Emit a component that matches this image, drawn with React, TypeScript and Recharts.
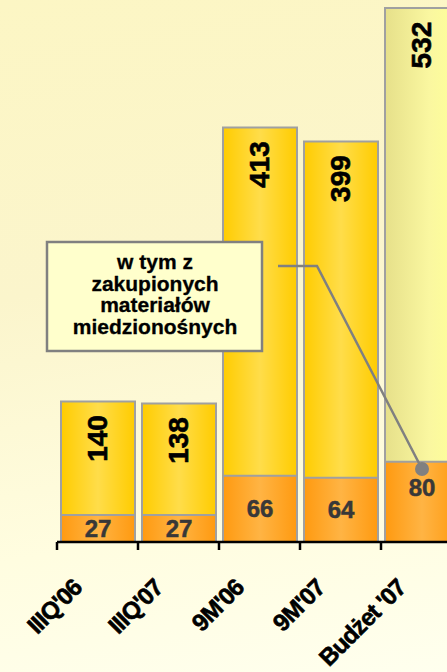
import React from "react";
import { BarChart, Bar, XAxis, YAxis, Cell, LabelList } from "recharts";

const categories = ["IIIQ'06", "IIIQ'07", "9M'06", "9M'07", "Budżet '07"];
const totalValues = [140, 138, 413, 399, 532];
const copperValues = [27, 27, 66, 64, 80];
const calloutLines = ["w tym z", "zakupionych", "materiałów", "miedzionośnych"];

const data = categories.map((name, i) => ({
  name,
  total: totalValues[i],
  copper: copperValues[i],
}));

const FONT = "'Liberation Sans', Arial, sans-serif";

const TotalLabel = (props: any) => {
  const { x, y, width, value } = props;
  const cx = Number(x) + Number(width) / 2;
  const cy = Number(y) + 37;
  return (
    <text
      x={cx}
      y={cy}
      transform={`rotate(-90, ${cx}, ${cy})`}
      textAnchor="middle"
      dominantBaseline="central"
      fontFamily={FONT}
      fontWeight="bold"
      fontSize={28}
      fill="#000"
      stroke="#000"
      strokeWidth={0.6}
    >
      {value}
    </text>
  );
};

const CopperLabel = (props: any) => {
  const { x, y, width, height, value, index } = props;
  const cx = Number(x) + Number(width) / 2;
  const cy = index === categories.length - 1 ? Number(y) + 26 : Number(y) + Number(height) / 2;
  return (
    <text
      x={cx}
      y={cy}
      textAnchor="middle"
      dominantBaseline="central"
      fontFamily={FONT}
      fontWeight="bold"
      fontSize={24}
      fill="#383838"
      stroke="#383838"
      strokeWidth={0.5}
    >
      {value}
    </text>
  );
};

const CatTick = (props: any) => {
  const { x, y, payload } = props;
  const half = payload && payload.offset ? payload.offset : 40.5;
  const lx = x - half;
  const ax = x - 14;
  const ay = y + 47;
  return (
    <g>
      <line x1={lx} y1={y} x2={lx} y2={y + 8} stroke="#000" strokeWidth={2.5} />
      <text
        x={ax}
        y={ay}
        transform={`rotate(-45, ${ax}, ${ay})`}
        textAnchor="end"
        fontFamily={FONT}
        fontWeight="bold"
        fontSize={24}
        letterSpacing={-0.8}
        fill="#000"
        stroke="#000"
        strokeWidth={0.6}
      >
        {payload.value}
      </text>
    </g>
  );
};

export default function App() {
  return (
    <div
      style={{
        position: "absolute",
        left: 0,
        top: 0,
        width: 447,
        height: 672,
        overflow: "hidden",
        background: "linear-gradient(170deg, #FCF6C4 0%, #FBF5CC 40%, #FFFDE0 75%, #FFFFEE 100%)",
      }}
    >
      <BarChart
        width={470}
        height={672}
        data={data}
        margin={{ top: 0, right: 8, bottom: 0, left: 57 }}
        barGap={-74}
      >
        <defs>
          <linearGradient id="gYellow" x1="0" y1="0" x2="1" y2="0">
            <stop offset="0%" stopColor="#FFCC00" />
            <stop offset="50%" stopColor="#FFDD4A" />
            <stop offset="100%" stopColor="#FFCC00" />
          </linearGradient>
          <linearGradient id="gBudget" x1="0" y1="0" x2="1" y2="0">
            <stop offset="0%" stopColor="#E6E08A" />
            <stop offset="60%" stopColor="#FAF7A0" />
            <stop offset="100%" stopColor="#FFFF99" />
          </linearGradient>
          <linearGradient id="gOrange" x1="0" y1="0" x2="1" y2="0">
            <stop offset="0%" stopColor="#FF9A10" />
            <stop offset="50%" stopColor="#FFB444" />
            <stop offset="100%" stopColor="#FF9A10" />
          </linearGradient>
        </defs>
        <XAxis
          dataKey="name"
          interval={0}
          tickLine={false}
          tickSize={0}
          tickMargin={0}
          height={130}
          axisLine={{ stroke: "#000", strokeWidth: 2.5 }}
          tick={<CatTick />}
        />
        <YAxis hide domain={[0, 540]} />
        <Bar dataKey="total" barSize={74} stroke="#A0A0A0" strokeWidth={2} isAnimationActive={false}>
          {data.map((d, i) => (
            <Cell key={d.name} fill={i === data.length - 1 ? "url(#gBudget)" : "url(#gYellow)"} />
          ))}
          <LabelList dataKey="total" content={<TotalLabel />} />
        </Bar>
        <Bar dataKey="copper" barSize={74} fill="url(#gOrange)" stroke="#A0A0A0" strokeWidth={2} isAnimationActive={false}>
          <LabelList dataKey="copper" content={<CopperLabel />} />
        </Bar>
      </BarChart>
      <svg
        width={447}
        height={672}
        style={{ position: "absolute", left: 0, top: 0, pointerEvents: "none" }}
      >
        <polyline points="278,266 317,266 422,469" fill="none" stroke="#808080" strokeWidth={2.5} />
        <circle cx={422} cy={469} r={7} fill="#808080" />
        <rect x={47} y={242} width={215} height={109} fill="#FFFFCC" stroke="#808080" strokeWidth={2.5} />
        {calloutLines.map((t, i) => (
          <text
            key={t}
            x={155}
            y={269 + i * 21.6}
            textAnchor="middle"
            fontFamily={FONT}
            fontWeight="bold"
            fontSize={21}
            fill="#000"
            stroke="#000"
            strokeWidth={0.3}
          >
            {t}
          </text>
        ))}
      </svg>
    </div>
  );
}
